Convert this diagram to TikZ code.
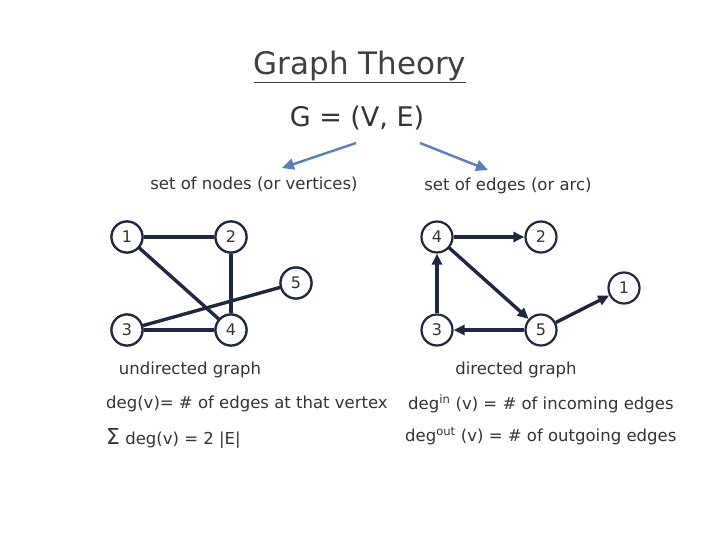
\documentclass[tikz,border=0pt]{standalone}
\usepackage{fontspec}
\setmainfont{DejaVu Sans}
\usetikzlibrary{arrows.meta}
\definecolor{navy}{HTML}{1E2840}
\definecolor{steel}{HTML}{5B7FB2}
\begin{document}
\begin{tikzpicture}[x=1pt,y=-1pt,
 vtx/.style={circle,draw=navy,line width=2.2pt,fill=white,minimum size=31pt,inner sep=0pt,font=\fontsize{16}{18}\selectfont,text=black!80},
 edge/.style={line width=3.4pt,draw=navy},
 dedge/.style={edge,-{Triangle[length=11pt,width=10pt]}},
 lbl/.style={text=black!80,font=\fontsize{16.5}{19}\selectfont,inner sep=0pt},
 barrow/.style={line width=2.4pt,draw=steel,-{Triangle[length=12pt,width=11pt]}}]
\useasboundingbox (0,0) rectangle (720,540);
\node[lbl,text=black!75,font=\fontsize{31}{36}\selectfont] (title) at (360,67) {\underline{Graph Theory}};
\node[lbl,font=\fontsize{27}{30}\selectfont] (G) at (357,118) {G = (V, E)};
\node[lbl] (sn) at (254,184) {set of nodes (or vertices)};
\node[lbl] (se) at (508,186) {set of edges (or arc)};
\coordinate (a1) at (356,143); \coordinate (a2) at (420,143);
\draw[barrow] (a1) -- (282,168);
\draw[barrow] (a2) -- (488,170);
\node[vtx] (l1) at (127,237) {1};
\node[vtx] (l2) at (231,237) {2};
\node[vtx] (l5) at (296,283) {5};
\node[vtx] (l3) at (127,330) {3};
\node[vtx] (l4) at (231,330) {4};
\draw[edge] (l1)--(l2); \draw[edge] (l1)--(l4); \draw[edge] (l2)--(l4);
\draw[edge] (l3)--(l4); \draw[edge] (l3)--(l5);
\node[vtx] at (l1) {1}; \node[vtx] at (l2) {2}; \node[vtx] at (l5) {5}; \node[vtx] at (l3) {3}; \node[vtx] at (l4) {4};
\node[vtx] (r4) at (437,237) {4};
\node[vtx] (r2) at (541,237) {2};
\node[vtx] (r1) at (624,288) {1};
\node[vtx] (r3) at (437,330) {3};
\node[vtx] (r5) at (541,330) {5};
\draw[dedge] (r4)--(r2); \draw[dedge] (r4)--(r5); \draw[dedge] (r3)--(r4);
\draw[dedge] (r5)--(r3); \draw[dedge] (r5)--(r1);
\node[lbl] (ug) at (190,370) {undirected graph};
\node[lbl] (dg) at (516,370) {directed graph};
\node[lbl,anchor=west] (d1) at (106,404) {deg(v)= \# of edges at that vertex};
\node[lbl,anchor=west] (d2) at (106,438) {{\fontsize{22}{24}\selectfont Σ} deg(v) = 2 |E|};
\node[lbl,anchor=west] (d3) at (408,404) {deg\textsuperscript{in} (v) = \# of incoming edges};
\node[lbl,anchor=west] (d4) at (405,436) {deg\textsuperscript{out} (v) = \# of outgoing edges};
\end{tikzpicture}
\end{document}
